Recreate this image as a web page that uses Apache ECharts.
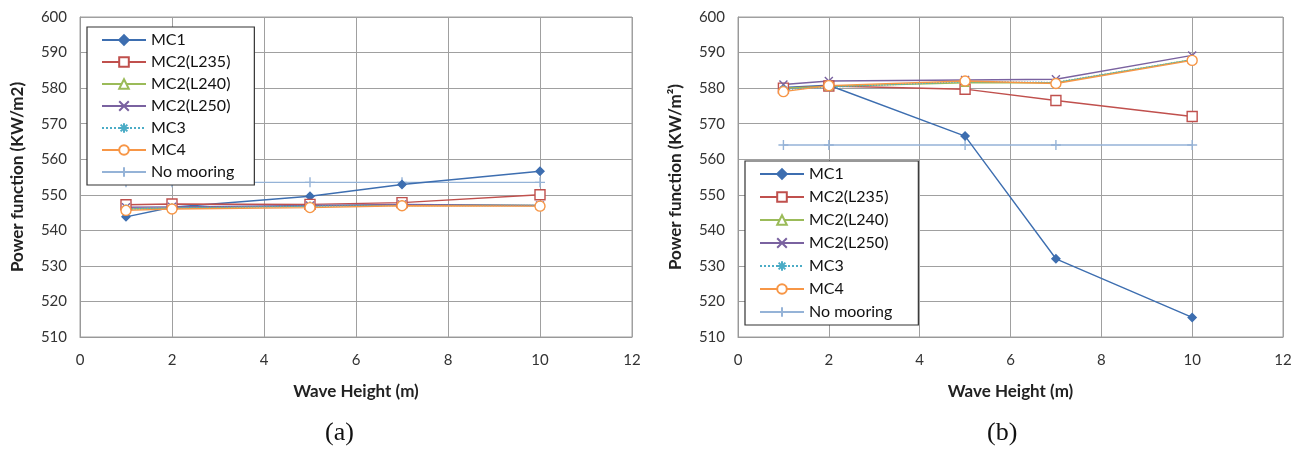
<!DOCTYPE html>
<html><head><meta charset="utf-8">
<script src="https://cdn.jsdelivr.net/npm/echarts@6/dist/echarts.min.js"></script>
<style>html,body{margin:0;padding:0;background:#fff}#c{width:1300px;height:450px}</style>
</head><body><div id="c"></div>
<script>
const waveHeights = [1, 2, 5, 7, 10];
const seriesNames = ['MC1','MC2(L235)','MC2(L240)','MC2(L250)','MC3','MC4','No mooring'];
// Panel (a)
const a_MC1  = [543.8, 546.5, 549.6, 552.9, 556.6];
const a_L235 = [547.2, 547.4, 547.3, 547.8, 550.0];
const a_L240 = [546.0, 546.3, 546.8, 547.2, 547.0];
const a_L250 = [546.5, 546.6, 547.0, 547.3, 547.0];
const a_MC3  = [546.0, 546.3, 546.8, 547.0, 547.0];
const a_MC4  = [545.6, 546.0, 546.4, 546.9, 546.8];
const a_NoM  = [553.5, 553.5, 553.5, 553.5, 553.5];
// Panel (b)
const b_MC1  = [580.2, 580.8, 566.5, 532.0, 515.5];
const b_L235 = [580.0, 580.6, 579.7, 576.5, 572.0];
const b_L240 = [580.0, 580.5, 581.5, 581.5, 588.0];
const b_L250 = [581.0, 582.0, 582.3, 582.5, 589.2];
const b_MC3  = [579.6, 580.3, 581.8, 581.6, 588.0];
const b_MC4  = [579.0, 580.7, 582.0, 581.3, 587.8];
const b_NoM  = [564.0, 564.0, 564.0, 564.0, 564.0];
const yTicks = {min: 510, max: 600, interval: 10};
const xTicks = {min: 0, max: 12, interval: 2};

const FONT = 'Lato';
const styles = [
  {color:'#3d6eb0', symbol:'diamond', size:8, fill:'#3d6eb0', type:'solid'},
  {color:'#c0504d', symbol:'rect', size:10, fill:'#ffffff', type:'solid'},
  {color:'#9bbb59', symbol:'triangle', size:7, fill:'#ffffff', type:'solid'},
  {color:'#7a62a0', symbol:'path://M0,0L10,10M10,0L0,10', size:8, fill:'none', type:'solid'},
  {color:'#4bacc6', symbol:'path://M0,5L10,5M5,0L5,10M1.5,1.5L8.5,8.5M8.5,1.5L1.5,8.5', size:9, fill:'none', type:'dotted'},
  {color:'#f79646', symbol:'circle', size:10, fill:'#ffffff', type:'solid'},
  {color:'#95b3d7', symbol:'path://M0,5L10,5M5,0L5,10', size:10, fill:'none', type:'solid'}
];
function mk(name, vals, idx, st){
  return {
    name, type:'line', xAxisIndex:idx, yAxisIndex:idx,
    data: waveHeights.map((x,i)=>[x, vals[i]]),
    symbol: st.symbol, symbolSize: st.size, showAllSymbol:true,
    lineStyle:{color:st.color, width:1.4, type:st.type},
    itemStyle:{color:st.fill==='none'?'rgba(255,255,255,0)':st.fill, borderColor:st.color, borderWidth:1.4},
    emphasis:{disabled:true}, z: name==='No mooring'?1:2
  };
}
const aData=[a_MC1,a_L235,a_L240,a_L250,a_MC3,a_MC4,a_NoM];
const bData=[b_MC1,b_L235,b_L240,b_L250,b_MC3,b_MC4,b_NoM];
const series=[];
seriesNames.forEach((n,i)=>series.push(mk(n,aData[i],0,styles[i])));
seriesNames.forEach((n,i)=>series.push(mk(n,bData[i],1,styles[i])));

function xAx(idx){return {type:'value', gridIndex:idx, min:xTicks.min, max:xTicks.max, interval:xTicks.interval,
  name:'Wave Height (m)', nameLocation:'middle', nameGap:46,
  nameTextStyle:{fontFamily:FONT, fontWeight:'bold', fontSize:17, color:'#222'},
  axisLine:{lineStyle:{color:'#999'}}, axisTick:{show:false},
  axisLabel:{fontFamily:FONT, fontSize:15, color:'#333', margin:16},
  splitLine:{show:true, lineStyle:{color:'#a0a0a0', width:1}}};}
function yAx(idx, nm){return {type:'value', gridIndex:idx, min:yTicks.min, max:yTicks.max, interval:yTicks.interval,
  name:nm, nameLocation:'middle', nameGap:54, nameRotate:90,
  nameTextStyle:{fontFamily:FONT, fontWeight:'bold', fontSize:17, color:'#222'},
  axisLine:{show:true, lineStyle:{color:'#999'}}, axisTick:{show:false},
  axisLabel:{fontFamily:FONT, fontSize:15, color:'#333', margin:13},
  splitLine:{show:true, lineStyle:{color:'#a0a0a0', width:1}}};}

function legendAt(left, top, padR, gap){
  return {orient:'vertical', left:left, top:top, data:seriesNames.slice(),
    backgroundColor:'#fff', borderColor:'#333', borderWidth:1.2,
    itemWidth:44, itemHeight:12, itemGap:gap, padding:[5,padR,5,14],
    textStyle:{fontFamily:FONT, fontSize:16, color:'#111'}};
}

const chart = echarts.init(document.getElementById('c'));
chart.setOption({
  animation:false,
  grid:[{left:80, right:668, top:17, bottom:113, show:true, borderColor:'#a0a0a0', borderWidth:1},
        {left:738, right:17, top:17, bottom:113, show:true, borderColor:'#a0a0a0', borderWidth:1}],
  xAxis:[xAx(0), xAx(1)],
  yAxis:[yAx(0,'Power function (KW/m2)'), yAx(1,'Power function (KW/m²)')],
  legend:[legendAt(87,27,20,6), legendAt(745,161,26,7)],
  graphic:[
    {type:'text', left:325, top:420, style:{text:'(a)', font:'26px "Liberation Serif", serif', fill:'#111'}},
    {type:'text', left:987, top:420, style:{text:'(b)', font:'26px "Liberation Serif", serif', fill:'#111'}}
  ],
  series
});
</script></body></html>
